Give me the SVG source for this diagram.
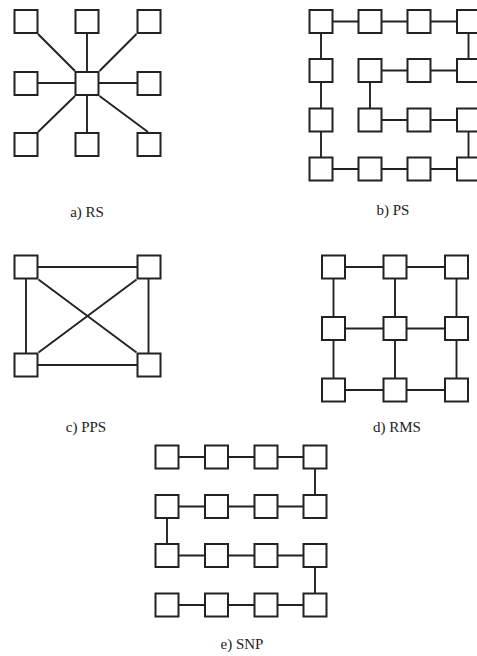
<svg xmlns="http://www.w3.org/2000/svg" width="477" height="656" viewBox="0 0 477 656">
<style>
.n{fill:#fff;stroke:#222;stroke-width:2}
.c line{stroke:#222;stroke-width:1.9}
text{font-family:'Liberation Serif','DejaVu Serif',serif;font-size:15px;fill:#222;text-anchor:middle}
</style>
<rect width="477" height="656" fill="#fff"/>
<g id="connectors" class="c">
<!-- a) RS -->
<line x1="38" y1="34" x2="75" y2="71"/>
<line x1="136.5" y1="34" x2="99.5" y2="71"/>
<line x1="38" y1="132" x2="75" y2="96"/>
<line x1="99.5" y1="96" x2="148" y2="132"/>
<line x1="87" y1="34" x2="87" y2="71"/>
<line x1="87" y1="96" x2="87" y2="132"/>
<line x1="38" y1="83" x2="75" y2="83"/>
<line x1="99" y1="83" x2="137" y2="83"/>
<!-- b) PS -->
<line x1="321" y1="21.5" x2="468.5" y2="21.5"/>
<line x1="321" y1="21.5" x2="321" y2="169"/>
<line x1="468.5" y1="21.5" x2="468.5" y2="70.5"/>
<line x1="370" y1="70.5" x2="468.5" y2="70.5"/>
<line x1="370" y1="70.5" x2="370" y2="120"/>
<line x1="370" y1="120" x2="468.5" y2="120"/>
<line x1="468.5" y1="120" x2="468.5" y2="169"/>
<line x1="321" y1="169" x2="468.5" y2="169"/>
<!-- c) PPS -->
<line x1="26" y1="267" x2="149" y2="267"/>
<line x1="26" y1="365" x2="149" y2="365"/>
<line x1="26" y1="267" x2="26" y2="365"/>
<line x1="148.5" y1="267" x2="148.5" y2="365"/>
<line x1="38.5" y1="279.5" x2="136.5" y2="352.5"/>
<line x1="136.5" y1="279.5" x2="38.5" y2="352.5"/>
<!-- d) RMS -->
<line x1="333.5" y1="267" x2="456.5" y2="267"/>
<line x1="333.5" y1="328.5" x2="456.5" y2="328.5"/>
<line x1="333.5" y1="390" x2="456.5" y2="390"/>
<line x1="333.5" y1="267" x2="333.5" y2="390"/>
<line x1="395" y1="267" x2="395" y2="390"/>
<line x1="456.5" y1="267" x2="456.5" y2="390"/>
<!-- e) SNP -->
<line x1="167" y1="457" x2="315" y2="457"/>
<line x1="315" y1="457" x2="315" y2="506.5"/>
<line x1="167" y1="506.5" x2="315" y2="506.5"/>
<line x1="167" y1="506.5" x2="167" y2="555.5"/>
<line x1="167" y1="555.5" x2="315" y2="555.5"/>
<line x1="315" y1="555.5" x2="315" y2="605"/>
<line x1="167" y1="605" x2="315" y2="605"/>
</g>
<g id="panel-a">
<g id="a-n1"><rect class="n" x="14.5" y="10" width="23" height="23"/></g>
<g id="a-n2"><rect class="n" x="75.5" y="10" width="23" height="23"/></g>
<g id="a-n3"><rect class="n" x="137.5" y="10" width="23" height="23"/></g>
<g id="a-n4"><rect class="n" x="14.5" y="72" width="23" height="23"/></g>
<g id="a-center"><rect class="n" x="75.5" y="72" width="23" height="23"/></g>
<g id="a-n5"><rect class="n" x="137.5" y="72" width="23" height="23"/></g>
<g id="a-n6"><rect class="n" x="14.5" y="133" width="23" height="23"/></g>
<g id="a-n7"><rect class="n" x="75.5" y="133" width="23" height="23"/></g>
<g id="a-n8"><rect class="n" x="137.5" y="133" width="23" height="23"/></g>
<text x="87" y="217" font-family="Liberation Serif">a) RS</text>
</g>
<g id="panel-b">
<g id="b-r0c0"><rect class="n" x="309.5" y="10" width="23" height="23"/></g>
<g id="b-r0c1"><rect class="n" x="358.5" y="10" width="23" height="23"/></g>
<g id="b-r0c2"><rect class="n" x="407.5" y="10" width="23" height="23"/></g>
<g id="b-r0c3"><rect class="n" x="457" y="10" width="23" height="23"/></g>
<g id="b-r1c0"><rect class="n" x="309.5" y="59" width="23" height="23"/></g>
<g id="b-r1c1"><rect class="n" x="358.5" y="59" width="23" height="23"/></g>
<g id="b-r1c2"><rect class="n" x="407.5" y="59" width="23" height="23"/></g>
<g id="b-r1c3"><rect class="n" x="457" y="59" width="23" height="23"/></g>
<g id="b-r2c0"><rect class="n" x="309.5" y="108.5" width="23" height="23"/></g>
<g id="b-r2c1"><rect class="n" x="358.5" y="108.5" width="23" height="23"/></g>
<g id="b-r2c2"><rect class="n" x="407.5" y="108.5" width="23" height="23"/></g>
<g id="b-r2c3"><rect class="n" x="457" y="108.5" width="23" height="23"/></g>
<g id="b-r3c0"><rect class="n" x="309.5" y="157.5" width="23" height="23"/></g>
<g id="b-r3c1"><rect class="n" x="358.5" y="157.5" width="23" height="23"/></g>
<g id="b-r3c2"><rect class="n" x="407.5" y="157.5" width="23" height="23"/></g>
<g id="b-r3c3"><rect class="n" x="457" y="157.5" width="23" height="23"/></g>
<text x="393" y="215" font-family="Liberation Serif">b) PS</text>
</g>
<g id="panel-c">
<g id="c-tl"><rect class="n" x="14.5" y="255.5" width="23" height="23"/></g>
<g id="c-tr"><rect class="n" x="137.5" y="255.5" width="23" height="23"/></g>
<g id="c-bl"><rect class="n" x="14.5" y="353.5" width="23" height="23"/></g>
<g id="c-br"><rect class="n" x="137.5" y="353.5" width="23" height="23"/></g>
<text x="86" y="432" font-family="Liberation Serif">c) PPS</text>
</g>
<g id="panel-d">
<g id="d-r0c0"><rect class="n" x="322" y="255.5" width="23" height="23"/></g>
<g id="d-r0c1"><rect class="n" x="383.5" y="255.5" width="23" height="23"/></g>
<g id="d-r0c2"><rect class="n" x="445" y="255.5" width="23" height="23"/></g>
<g id="d-r1c0"><rect class="n" x="322" y="317" width="23" height="23"/></g>
<g id="d-r1c1"><rect class="n" x="383.5" y="317" width="23" height="23"/></g>
<g id="d-r1c2"><rect class="n" x="445" y="317" width="23" height="23"/></g>
<g id="d-r2c0"><rect class="n" x="322" y="378.5" width="23" height="23"/></g>
<g id="d-r2c1"><rect class="n" x="383.5" y="378.5" width="23" height="23"/></g>
<g id="d-r2c2"><rect class="n" x="445" y="378.5" width="23" height="23"/></g>
<text x="397" y="432" font-family="Liberation Serif">d) RMS</text>
</g>
<g id="panel-e">
<g id="e-r0c0"><rect class="n" x="155.5" y="445.5" width="23" height="23"/></g>
<g id="e-r0c1"><rect class="n" x="205" y="445.5" width="23" height="23"/></g>
<g id="e-r0c2"><rect class="n" x="254.5" y="445.5" width="23" height="23"/></g>
<g id="e-r0c3"><rect class="n" x="303.5" y="445.5" width="23" height="23"/></g>
<g id="e-r1c0"><rect class="n" x="155.5" y="495" width="23" height="23"/></g>
<g id="e-r1c1"><rect class="n" x="205" y="495" width="23" height="23"/></g>
<g id="e-r1c2"><rect class="n" x="254.5" y="495" width="23" height="23"/></g>
<g id="e-r1c3"><rect class="n" x="303.5" y="495" width="23" height="23"/></g>
<g id="e-r2c0"><rect class="n" x="155.5" y="544" width="23" height="23"/></g>
<g id="e-r2c1"><rect class="n" x="205" y="544" width="23" height="23"/></g>
<g id="e-r2c2"><rect class="n" x="254.5" y="544" width="23" height="23"/></g>
<g id="e-r2c3"><rect class="n" x="303.5" y="544" width="23" height="23"/></g>
<g id="e-r3c0"><rect class="n" x="155.5" y="593.5" width="23" height="23"/></g>
<g id="e-r3c1"><rect class="n" x="205" y="593.5" width="23" height="23"/></g>
<g id="e-r3c2"><rect class="n" x="254.5" y="593.5" width="23" height="23"/></g>
<g id="e-r3c3"><rect class="n" x="303.5" y="593.5" width="23" height="23"/></g>
<text x="242" y="649" font-family="Liberation Serif">e) SNP</text>
</g>
</svg>
